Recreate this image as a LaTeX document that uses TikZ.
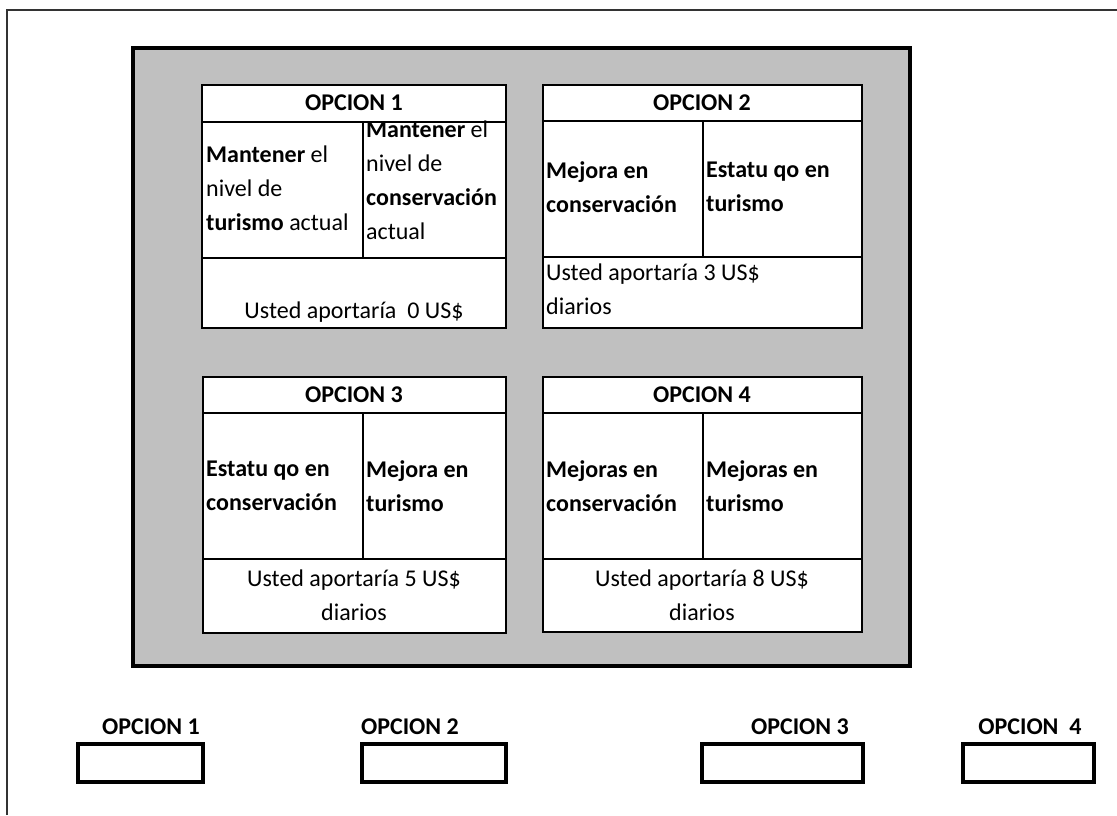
\documentclass[tikz,border=0pt]{standalone}
\usepackage{fontspec}
\setmainfont{Carlito}
\definecolor{graybg}{HTML}{C0C0C0}
\begin{document}
\begin{tikzpicture}[x=1pt,y=-1pt,
  frame/.style={draw=black!80, line width=1.5pt},
  panel/.style={draw=black, line width=4pt, fill=graybg},
  optbox/.style={draw=black, line width=2pt, fill=white},
  rule/.style={draw=black, line width=2pt},
  answer/.style={draw=black, line width=3.5pt, fill=white},
  txt/.style={font=\fontsize{24}{34}\selectfont, inner sep=0pt},
  lefttxt/.style={txt, align=left, anchor=west},
  ctrtxt/.style={txt, align=center},
  head/.style={txt, font=\fontsize{24}{34}\selectfont\bfseries}
]
\useasboundingbox (0,0) rectangle (1117,815);
% outer frame
\draw[frame] (7,815) -- (7,10) -- (1117,10);
% gray panel
\draw[panel] (133,48) rectangle (910,666);

% OPCION 1
\draw[optbox] (202,85) rectangle (506,328);
\draw[rule] (202,122) -- (506,122);
\draw[rule] (202,258) -- (506,258);
\draw[rule] (363,122) -- (363,258);
\node[head] (h1) at (354,103) {OPCION 1};
\node[lefttxt] (a1) at (206,188) {\textbf{Mantener} el\\nivel de\\\textbf{turismo} actual};
\node[lefttxt] (b1) at (366,180) {\textbf{Mantener} el\\nivel de\\\textbf{conservación}\\actual};
\node[ctrtxt] (c1) at (354,312) {Usted aportaría\ \ 0 US\$};

% OPCION 2
\draw[optbox] (543,85) rectangle (862,328);
\draw[rule] (543,121) -- (862,121);
\draw[rule] (543,257) -- (862,257);
\draw[rule] (703,121) -- (703,257);
\node[head] (h2) at (702,103) {OPCION 2};
\node[lefttxt] (a2) at (546,187) {\textbf{Mejora en}\\\textbf{conservación}};
\node[lefttxt] (b2) at (706,187) {\textbf{Estatu qo en}\\\textbf{turismo}};
\node[lefttxt] (c2) at (546,289) {Usted aportaría 3 US\$\\diarios};

% OPCION 3
\draw[optbox] (203,377) rectangle (506,633);
\draw[rule] (203,413) -- (506,413);
\draw[rule] (203,559) -- (506,559);
\draw[rule] (363,413) -- (363,559);
\node[head] (h3) at (354,395) {OPCION 3};
\node[lefttxt] (a3) at (206,486) {\textbf{Estatu qo en}\\\textbf{conservación}};
\node[lefttxt] (b3) at (366,486) {\textbf{Mejora en}\\\textbf{turismo}};
\node[ctrtxt] (c3) at (354,595) {Usted aportaría 5 US\$\\diarios};

% OPCION 4
\draw[optbox] (543,377) rectangle (862,632);
\draw[rule] (543,413) -- (862,413);
\draw[rule] (543,559) -- (862,559);
\draw[rule] (703,413) -- (703,559);
\node[head] (h4) at (702,395) {OPCION 4};
\node[lefttxt] (a4) at (546,486) {\textbf{Mejoras en}\\\textbf{conservación}};
\node[lefttxt] (b4) at (706,486) {\textbf{Mejoras en}\\\textbf{turismo}};
\node[ctrtxt] (c4) at (702,595) {Usted aportaría 8 US\$\\diarios};

% answer boxes
\node[head] (l1) at (151,727) {OPCION 1};
\node[head] (l2) at (410,727) {OPCION 2};
\node[head] (l3) at (800,727) {OPCION 3};
\node[head] (l4) at (1030,727) {OPCION\ \ 4};
\draw[answer] (78,744) rectangle (203,782);
\draw[answer] (362,744) rectangle (506,782);
\draw[answer] (702,744) rectangle (863,782);
\draw[answer] (963,744) rectangle (1094,782);
\end{tikzpicture}
\end{document}
